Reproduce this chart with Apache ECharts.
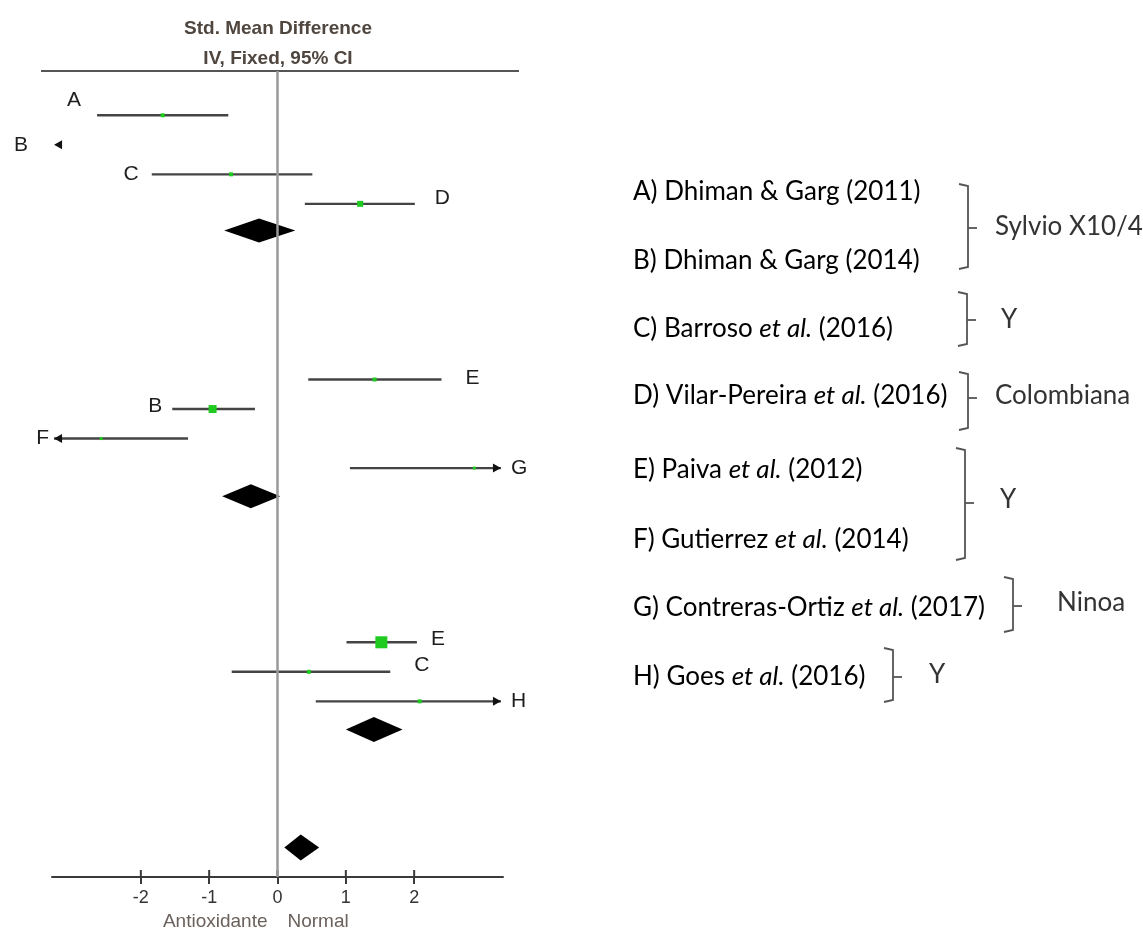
<!DOCTYPE html>
<html>
<head>
<meta charset="utf-8">
<script src="https://cdn.jsdelivr.net/npm/echarts@6/dist/echarts.min.js"></script>
<style>
html,body{margin:0;padding:0;background:#fff;}
#chart{width:1143px;height:931px;}
</style>
</head>
<body>
<div id="chart"></div>
<script>
// ================= DATA =================
// Individual studies (Std. Mean Difference, IV, Fixed, 95% CI)
const studyLabels = ['A', 'B', 'C', 'D', 'E', 'B', 'F', 'G', 'E', 'C', 'H'];
const studyRows   = [1.5, 2.5, 3.5, 4.5, 10.45, 11.45, 12.45, 13.45, 19.35, 20.35, 21.35];
const studyLower  = [-2.64, -4.60, -1.84, 0.40, 0.45, -1.54, -3.90, 1.06, 1.01, -0.67, 0.56];
const studyEffect = [-1.68, -4.00, -0.68, 1.21, 1.42, -0.95, -2.58, 2.88, 1.52, 0.46, 2.08];
const studyUpper  = [-0.72, -3.45, 0.51, 2.01, 2.40, -0.33, -1.31, 3.90, 2.04, 1.65, 3.60];

// Pooled estimates (subgroups + overall)
const pooledRows   = [5.4, 14.4, 22.3, 26.3];
const pooledLower  = [-0.78, -0.81, 1.00, 0.10];
const pooledEffect = [-0.27, -0.39, 1.41, 0.34];
const pooledUpper  = [0.26, 0.04, 1.83, 0.61];

// Axis
const xTicks = [-2, -1, 0, 1, 2];
const xMin = -3.3, xMax = 3.3;
const rowMax = 27.3;
const axisSideLabels = ['Antioxidante', 'Normal'];

// Legend / key texts
const keyLetters = ['A', 'B', 'C', 'D', 'E', 'F', 'G', 'H'];
const keyAuthors = ['Dhiman & Garg', 'Dhiman & Garg', 'Barroso', 'Vilar-Pereira', 'Paiva', 'Gutierrez', 'Contreras-Ortiz', 'Goes'];
const keyEtAl    = [false, false, true, true, true, true, true, true];
const keyYears   = ['2011', '2014', '2016', '2016', '2012', '2014', '2017', '2016'];
const groupNames = ['Sylvio X10/4', 'Y', 'Colombiana', 'Y', 'Ninoa', 'Y'];

// ================= STYLE / LAYOUT =================
const GREEN = '#1ecb1e';
const CI_COLOR = '#444444';
const AXIS_COLOR = '#3a3a3a';
const ARROW_LIMIT = 3.27;
const markerSizes = [4, 0, 4, 6, 4, 8, 3, 3, 12, 4, 4];
const labelPlacement = [
  {side: 'left', gap: 16, dy: -15},
  {side: 'left', gap: 26, dy: 0},
  {side: 'left', gap: 13, dy: 0},
  {side: 'right', gap: 20, dy: -6},
  {side: 'right', gap: 24, dy: -1},
  {side: 'left', gap: 10, dy: -3},
  {side: 'left', gap: 5, dy: 0},
  {side: 'right', gap: 10, dy: 0},
  {side: 'right', gap: 14, dy: -3},
  {side: 'right', gap: 24, dy: -7},
  {side: 'right', gap: 10, dy: 0}
];
const diamondHalfHeights = [12, 12, 12.5, 13];
const LABEL_FONT = '21px "Liberation Sans", Arial, sans-serif';
const KEY_FONT_FAMILY = 'Lato, "Open Sans", sans-serif';
const KEY_SIZE = 26;
const GRID = {left: 52, width: 451, top: 71, bottom: 54};
const keyX = 633;
const keyY = [192, 261, 329, 396, 470, 540, 608, 677];
const brackets = [
  {x: 968, top: 184, bottom: 269, mid: 228, tx: 995, ty: 227},
  {x: 967, top: 292, bottom: 346, mid: 320, tx: 1001, ty: 320},
  {x: 968, top: 372, bottom: 430, mid: 398, tx: 995, ty: 396},
  {x: 965, top: 448, bottom: 560, mid: 503, tx: 1000, ty: 500},
  {x: 1013, top: 577, bottom: 632, mid: 606, tx: 1057, ty: 603},
  {x: 893, top: 648, bottom: 702, mid: 677, tx: 929, ty: 675}
];

// ================= BUILD =================
const studyData = studyLabels.map((_, i) => [studyLower[i], studyEffect[i], studyUpper[i], studyRows[i]]);
const pooledData = pooledRows.map((_, i) => [pooledLower[i], pooledEffect[i], pooledUpper[i], pooledRows[i]]);

function arrowShape(tipX, y, dir) {
  return {
    type: 'polygon',
    shape: {points: [[tipX, y], [tipX - dir * 8, y - 4.5], [tipX - dir * 8, y + 4.5]]},
    style: {fill: '#111'}
  };
}

function renderStudy(params, api) {
  const i = params.dataIndex;
  const lo = api.value(0), eff = api.value(1), hi = api.value(2), row = api.value(3);
  const leftOut = lo < -ARROW_LIMIT, rightOut = hi > ARROW_LIMIT;
  const x0 = Math.max(lo, -ARROW_LIMIT), x1 = Math.min(hi, ARROW_LIMIT);
  const y = api.coord([0, row])[1];
  const pL = api.coord([x0, row])[0];
  const pR = api.coord([x1, row])[0];
  const children = [];
  if (x1 > x0) {
    children.push({type: 'line', shape: {x1: pL, y1: y, x2: pR, y2: y},
      style: {stroke: CI_COLOR, lineWidth: 2.4}});
  }
  if (leftOut) children.push(arrowShape(pL, y, -1));
  if (rightOut) children.push(arrowShape(pR, y, 1));
  if (eff >= xMin && eff <= xMax && markerSizes[i] > 0) {
    const px = api.coord([eff, row])[0];
    const s = markerSizes[i];
    children.push({type: 'rect', shape: {x: px - s / 2, y: y - s / 2, width: s, height: s},
      style: {fill: GREEN}});
  }
  const lp = labelPlacement[i];
  const anchor = lp.side === 'left' ? pL - lp.gap : pR + lp.gap;
  children.push({type: 'text', style: {
    text: studyLabels[i], x: anchor, y: y + lp.dy,
    textAlign: lp.side === 'left' ? 'right' : 'left', textVerticalAlign: 'middle',
    font: LABEL_FONT, fill: '#1e1e1e'}});
  return {type: 'group', children: children};
}

function renderPooled(params, api) {
  const lo = api.value(0), eff = api.value(1), hi = api.value(2), row = api.value(3);
  const pl = api.coord([lo, row]);
  const xm = api.coord([eff, row])[0];
  const xr = api.coord([hi, row])[0];
  const y = pl[1];
  const h = diamondHalfHeights[params.dataIndex];
  const children = [{type: 'polygon',
    shape: {points: [[pl[0], y], [xm, y - h], [xr, y], [xm, y + h]]},
    style: {fill: '#000'}}];
  if (params.dataIndex === 0) {
    const axisY = api.coord([0, rowMax])[1];
    // upper halves of the tick marks that cross the x axis line
    xTicks.forEach(t => {
      const tx = api.coord([t, rowMax])[0];
      children.push({type: 'line', shape: {x1: tx, y1: axisY, x2: tx, y2: axisY - 7},
        style: {stroke: AXIS_COLOR, lineWidth: 2}});
    });
    // side captions under the axis, anchored on the axis zero
    const zeroX = api.coord([0, rowMax])[0];
    const capFont = '19px "Liberation Sans", Arial, sans-serif';
    children.push({type: 'text', style: {text: axisSideLabels[0], x: zeroX - 10, y: axisY + 45,
      textAlign: 'right', textVerticalAlign: 'middle', font: capFont, fill: '#6b615c'}});
    children.push({type: 'text', style: {text: axisSideLabels[1], x: zeroX + 10, y: axisY + 45,
      textAlign: 'left', textVerticalAlign: 'middle', font: capFont, fill: '#6b615c'}});
  }
  return {type: 'group', children: children};
}

const graphics = [];
// header
const headFont = 'bold 19px "Liberation Sans Narrow", "Liberation Sans", Arial, sans-serif';
graphics.push({type: 'text', style: {text: 'Std. Mean Difference', x: 278, y: 29, textAlign: 'center', textVerticalAlign: 'middle',
  font: headFont, fill: '#4f463f'}});
graphics.push({type: 'text', style: {text: 'IV, Fixed, 95% CI', x: 278, y: 59, textAlign: 'center', textVerticalAlign: 'middle',
  font: headFont, fill: '#4f463f'}});
graphics.push({type: 'line', shape: {x1: 41, y1: 71, x2: 519, y2: 71}, style: {stroke: '#555', lineWidth: 2}});

// key texts
keyLetters.forEach((L, i) => {
  const txt = keyEtAl[i]
    ? '{n|' + L + ') ' + keyAuthors[i] + ' }{i|et al.}{n| (' + keyYears[i] + ')}'
    : '{n|' + L + ') ' + keyAuthors[i] + ' (' + keyYears[i] + ')}';
  graphics.push({type: 'text', style: {
    text: txt, x: keyX, y: keyY[i], textVerticalAlign: 'middle',
    rich: {
      n: {fontFamily: KEY_FONT_FAMILY, fontSize: KEY_SIZE, color: '#333'},
      i: {fontFamily: KEY_FONT_FAMILY, fontSize: KEY_SIZE, fontStyle: 'italic', color: '#333'}
    }}});
});
brackets.forEach((b, i) => {
  graphics.push({type: 'polyline', shape: {points: [[b.x - 9, b.top], [b.x, b.top + 2], [b.x, b.bottom - 2], [b.x - 9, b.bottom]]},
    style: {stroke: '#555', lineWidth: 1.8, fill: null}});
  graphics.push({type: 'line', shape: {x1: b.x, y1: b.mid, x2: b.x + 9, y2: b.mid}, style: {stroke: '#555', lineWidth: 1.8}});
  graphics.push({type: 'text', style: {text: groupNames[i], x: b.tx, y: b.ty, textVerticalAlign: 'middle',
    font: KEY_SIZE + 'px ' + KEY_FONT_FAMILY, fill: '#333'}});
});

const chart = echarts.init(document.getElementById('chart'), null, {renderer: 'canvas'});
chart.setOption({
  animation: false,
  backgroundColor: '#ffffff',
  grid: {left: GRID.left, width: GRID.width, top: GRID.top, bottom: GRID.bottom, containLabel: false},
  xAxis: {
    type: 'value', min: xMin, max: xMax, position: 'bottom',
    axisLine: {show: true, onZero: false, lineStyle: {color: AXIS_COLOR, width: 2}},
    axisTick: {show: true, customValues: xTicks, length: 7, inside: false, lineStyle: {color: AXIS_COLOR, width: 2}},
    axisLabel: {show: true, customValues: xTicks, margin: 12, color: '#333', fontSize: 18,
      fontFamily: '"Liberation Sans", Arial, sans-serif'},
    splitLine: {show: false}
  },
  yAxis: {type: 'value', inverse: true, min: 0, max: rowMax, show: false},
  series: [{
    type: 'custom', name: 'Pooled', xAxisIndex: 0, yAxisIndex: 0,
    renderItem: renderPooled, data: pooledData, clip: false, z: 3,
    markLine: {
      silent: true, symbol: ['none', 'none'], label: {show: false},
      lineStyle: {color: '#9a9a9a', width: 2.5, type: 'solid'},
      data: [{xAxis: 0}]
    }
  }, {
    type: 'custom', name: 'Studies', xAxisIndex: 0, yAxisIndex: 0,
    renderItem: renderStudy, data: studyData, clip: false, z: 4
  }],
  graphic: graphics
});
</script>
</body>
</html>
